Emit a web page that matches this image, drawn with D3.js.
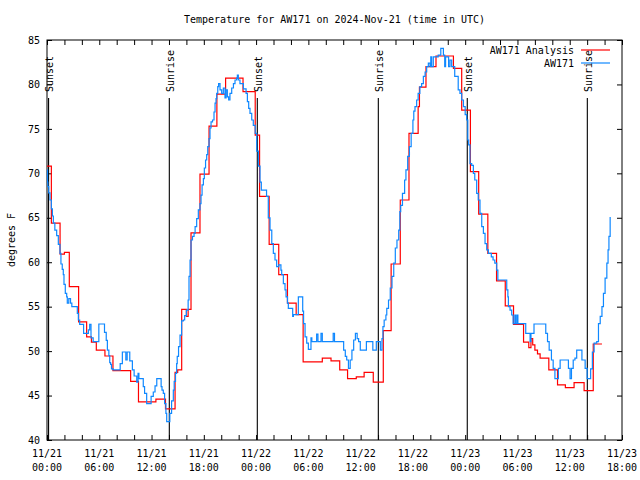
<!DOCTYPE html>
<html><head><meta charset="utf-8">
<script src="https://cdn.jsdelivr.net/npm/d3@7"></script>
<style>
body{margin:0;background:#fff}
text{font-family:"DejaVu Sans Mono","Liberation Mono",monospace;font-size:10px;fill:#000}
</style></head>
<body><svg id="c" width="640" height="480"></svg>
<script>
const title = "Temperature for AW171 on 2024-Nov-21 (time in UTC)";
const yLabel = "degrees F";
const seriesNames = ["AW171 Analysis", "AW171"];
const seriesColors = ["#ff0000", "#0f88ff"];
const yTicks = [40,45,50,55,60,65,70,75,80,85];
// hours after 2024-11-21 00:00 UTC
const sunHours = [0.18, 14.04, 24.14, 38.03, 48.24, 62.02];
const sunLabels = ["Sunset","Sunrise","Sunset","Sunrise","Sunset","Sunrise"];

const redHours = [0,0.5,1.5,2.0,2.56,3.63,4.55,5.1,5.66,6.65,7.57,9.6,10.5,12.5,13.6,14.7,15.0,15.46,16.0,16.2,16.53,17.56,18.6,19.5,20.5,22.5,23.9,24.4,25.5,26.6,27.6,28.6,29.4,31.6,32.6,33.6,34.5,35.5,36.4,37.45,38.6,39.5,40.55,41.55,42.6,42.75,43.5,44.65,46.65,47.6,48.6,49.55,50.6,51.6,52.6,53.55,54.7,55.3,55.55,55.75,56.0,56.3,56.6,57.6,58.6,59.5,60.5,61.65,62.7,63.7];
const redTemps = [70.8,64.4,60.9,61.1,57.25,53.3,51.6,51.0,50.1,49.45,47.8,46.6,44.3,44.6,43.5,47.6,47.9,54.7,53.9,54.7,63.3,69.9,75.3,78.9,80.7,79.2,74.3,67.4,62.0,58.6,55.4,54.1,48.8,49.2,48.9,47.9,46.9,47.1,47.6,46.5,52.3,59.8,67.0,74.5,77.5,79.7,82.0,83.2,81.8,77.1,70.2,65.4,61.0,57.9,55.1,53.0,51.0,50.4,51.4,50.7,50.1,49.7,49.2,47.9,46.2,45.9,46.45,45.55,50.8,50.8];

const blueHours = [0,0.06,0.1,0.2,0.34,0.5,0.62,0.73,0.9,1.11,1.3,1.49,1.6,1.75,1.87,1.95,2.1,2.26,2.33,2.5,2.7,2.85,3.48,3.6,3.75,4.2,4.75,4.9,5.05,5.3,5.95,6.6,6.8,6.93,7.1,7.2,7.3,7.4,7.6,8.4,8.65,9.05,9.2,9.5,9.8,10.0,10.3,10.45,10.55,11.05,11.2,11.44,11.95,12.2,12.4,12.6,13.1,13.2,13.35,13.5,13.65,13.74,14.1,14.3,14.5,14.6,14.75,14.88,14.95,15.1,15.27,15.45,15.65,15.8,16.0,16.2,16.3,16.42,16.53,16.7,16.88,17.0,17.18,17.37,17.56,17.68,17.8,17.95,18.06,18.2,18.33,18.45,18.6,18.71,18.83,19.0,19.17,19.29,19.4,19.48,19.6,19.7,19.86,20.05,20.24,20.43,20.55,20.7,20.85,21.0,21.2,21.4,21.58,21.77,21.85,21.96,22.15,22.54,22.85,23.0,23.15,23.3,23.5,23.68,23.9,24.07,24.26,24.45,24.6,25.2,25.4,25.6,25.8,25.98,26.17,26.36,26.6,26.85,26.94,27.13,27.32,27.44,27.6,27.7,28.2,28.28,28.85,29.35,29.45,29.62,29.81,30.0,30.3,30.4,30.95,31.1,31.45,31.6,32.85,33.0,34.05,34.24,34.4,34.6,34.8,35.0,35.2,35.4,35.6,35.77,35.96,36.66,37.4,37.8,38.26,38.45,38.56,38.7,38.9,39.0,39.2,39.4,39.6,39.8,39.98,40.17,40.37,40.5,40.6,40.8,41.05,41.2,41.4,41.6,41.8,42.0,42.1,42.24,42.43,42.6,42.8,43.0,43.2,43.4,43.58,43.77,43.96,44.05,44.15,44.34,44.9,45.2,45.5,45.65,45.75,46.1,46.26,46.45,46.8,47.2,47.4,47.6,47.8,48.0,48.17,48.3,48.4,48.55,48.75,48.94,49.1,49.32,49.5,49.7,49.9,50.09,50.28,50.47,50.66,51.0,51.2,51.4,51.62,51.75,52.77,52.9,52.96,53.15,53.34,53.5,53.7,53.8,53.95,54.05,54.95,55.45,55.55,55.9,57.25,57.45,57.64,57.9,58.1,58.3,58.7,58.9,59.85,60.04,60.2,60.4,60.6,60.8,61.4,61.77,62.0,62.4,62.6,62.8,63.1,63.3,63.5,63.7,63.87,64.06,64.26,64.4,64.5,64.64];
const blueTemps = [70.4,69.0,68.5,67.8,67.0,66.0,65.2,64.4,63.6,63.0,62.0,61.0,59.8,59.2,58.6,57.5,56.5,56.1,55.4,55.9,55.4,55.0,54.25,53.5,53.0,52.0,52.4,53.0,51.5,51.06,53.05,52.1,51.2,50.1,49.5,48.7,48.5,48.0,47.9,48.6,49.9,49.0,49.9,48.9,47.9,47.2,46.5,47.5,46.9,46.0,45.25,44.1,44.9,45.4,46.1,46.9,46.0,45.6,45.25,44.1,43.0,42.06,43.0,44.4,45.6,46.6,47.5,48.6,49.4,50.5,51.8,53.4,53.5,54.0,54.6,55.75,58.4,60.25,62.5,62.9,63.25,64.0,64.9,65.9,66.6,67.55,68.7,69.4,70.6,71.5,72.1,73.0,73.9,75.1,75.8,76.0,76.9,77.9,78.4,79.0,79.75,80.1,79.4,79.0,79.6,78.5,79.4,78.6,78.25,79.0,79.6,80.1,80.5,80.7,81.06,80.5,80.1,79.5,79.0,78.06,77.3,76.75,76.0,75.4,74.5,72.5,70.8,69.0,68.1,67.4,65.0,63.6,62.1,61.0,60.25,59.5,59.7,59.1,58.6,57.6,56.9,56.1,55.4,54.8,53.9,54.1,56.1,54.5,53.1,51.6,50.9,50.2,51.5,51.06,51.9,51.06,52.0,51.06,52.0,51.06,50.1,49.4,49.0,48.06,49.0,50.1,51.25,52.0,51.4,51.06,50.1,51.06,50.1,51.06,50.1,51.4,52.75,53.5,54.06,54.8,55.75,57.1,58.4,59.9,61.6,62.5,63.6,65.7,66.4,67.75,69.25,70.4,71.9,73.0,74.5,76.0,77.0,77.5,78.25,79.0,79.75,80.1,80.9,81.4,82.0,82.4,82.0,83.1,82.0,83.1,83.3,84.06,83.3,82.0,83.1,82.0,82.75,82.0,80.9,79.4,79.0,78.25,77.5,76.6,76.0,73.75,73.2,71.1,70.9,70.0,69.25,67.75,67.0,65.5,64.0,63.25,62.1,61.4,61.0,60.6,60.25,59.9,59.1,58.0,56.9,56.1,55.0,54.6,54.06,53.1,54.06,53.1,54.06,53.1,52.0,51.06,52.0,53.05,52.0,51.06,50.1,49.0,48.06,46.9,48.06,49.0,48.06,46.9,48.06,49.0,49.2,50.1,49.0,48.06,46.9,48.0,49.9,50.9,51.06,53.1,53.9,55.0,56.5,58.2,59.9,61.4,62.9,65.1];

const t0 = Date.UTC(2024,10,21,0,0);
const H = 3600*1000;
const toDate = h => new Date(t0 + h*H);

const svg = d3.select("#c");
const L=47, R=622, T=40, B=440;
const x = d3.scaleUtc().domain([toDate(0), toDate(66)]).range([L,R]);
const y = d3.scaleLinear().domain([40,85]).range([B,T]);

// axes
const fmtD = d3.utcFormat("%m/%d"), fmtT = d3.utcFormat("%H:%M");
const xTickVals = d3.range(0,67,2).map(toDate);
const bx = svg.append("g").attr("transform",`translate(0,${B})`)
  .call(d3.axisBottom(x).tickValues(xTickVals).tickSizeInner(-5).tickSizeOuter(0).tickFormat(""));
bx.select(".domain").remove();
svg.append("g").attr("transform",`translate(0,${T})`)
  .call(d3.axisTop(x).tickValues(xTickVals).tickSizeInner(-5).tickSizeOuter(0).tickFormat(""))
  .select(".domain").remove();
const labG = svg.append("g");
d3.range(0,67,6).map(toDate).forEach(d=>{
  const t = labG.append("text").attr("text-anchor","middle").attr("x",x(d));
  t.append("tspan").attr("x",x(d)).attr("y",457).text(fmtD(d));
  t.append("tspan").attr("x",x(d)).attr("y",471).text(fmtT(d));
});
const ly = svg.append("g").attr("transform",`translate(${L},0)`)
  .call(d3.axisLeft(y).tickValues(yTicks).tickSizeInner(-5).tickSizeOuter(0).tickPadding(7));
ly.select(".domain").remove();
svg.append("g").attr("transform",`translate(${R},0)`)
  .call(d3.axisRight(y).tickValues(yTicks).tickSizeInner(-5).tickSizeOuter(0).tickFormat(""))
  .select(".domain").remove();
svg.selectAll(".tick line").attr("stroke","#000");
svg.selectAll("g[font-family]").attr("font-family",null).attr("font-size",null);

// frame
svg.append("rect").attr("x",L).attr("y",T).attr("width",R-L).attr("height",B-T)
  .attr("fill","none").attr("stroke","#000").attr("stroke-width",1);

// sun lines
sunHours.forEach((h,i)=>{
  const xx = x(toDate(h));
  svg.append("line").attr("x1",xx).attr("x2",xx).attr("y1",98).attr("y2",B)
    .attr("stroke","#000").attr("stroke-width",1.1);
  svg.append("text").attr("transform",`translate(${xx+4.5},92) rotate(-90)`)
    .attr("text-anchor","start").text(sunLabels[i]);
});

// series
const line = d3.line().curve(d3.curveStepAfter).x(d=>x(toDate(d[0]))).y(d=>y(d[1]));
const redData = redHours.map((h,i)=>[h,redTemps[i]]);
const blueData = blueHours.map((h,i)=>[h,blueTemps[i]]);
svg.append("path").datum(redData).attr("d",line).attr("fill","none")
  .attr("stroke",seriesColors[0]).attr("stroke-width",1.2);
svg.append("path").datum(blueData).attr("d",line).attr("fill","none")
  .attr("stroke",seriesColors[1]).attr("stroke-width",1.2);

// title
svg.append("text").attr("x",(L+R)/2).attr("y",23).attr("text-anchor","middle").text(title);
// y label
svg.append("text").attr("transform","translate(15,240) rotate(-90)").attr("text-anchor","middle").text(yLabel);

// legend
seriesNames.forEach((n,i)=>{
  const yy = 50 + i*13;
  svg.append("text").attr("x",574).attr("y",yy+3.5).attr("text-anchor","end").text(n);
  svg.append("line").attr("x1",581).attr("x2",610).attr("y1",yy).attr("y2",yy)
    .attr("stroke",seriesColors[i]).attr("stroke-width",1.2);
});
</script></body></html>
